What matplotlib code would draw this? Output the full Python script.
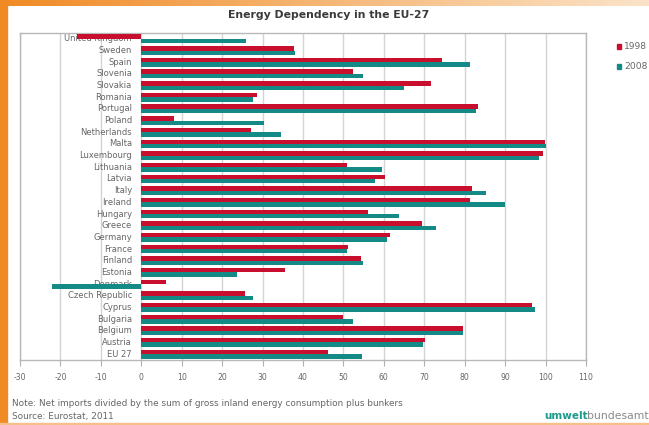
import numpy as np
import matplotlib
matplotlib.use('Agg')
import matplotlib.pyplot as plt
from matplotlib.patches import Patch, Rectangle

plt.rcParams['axes.unicode_minus'] = False
plt.rcParams['font.family'] = 'DejaVu Sans'

# data (energy dependency in %)
countries = ['United Kingdom', 'Sweden', 'Spain', 'Slovenia', 'Slovakia', 'Romania',
             'Portugal', 'Poland', 'Netherlands', 'Malta', 'Luxembourg', 'Lithuania',
             'Latvia', 'Italy', 'Ireland', 'Hungary', 'Greece', 'Germany', 'France',
             'Finland', 'Estonia', 'Denmark', 'Czech Republic', 'Cyprus', 'Bulgaria',
             'Belgium', 'Austria', 'EU 27']
dep_1998 = [-15.8, 37.8, 74.4, 52.3, 71.6, 28.5, 83.2, 8.2, 27.2, 99.8, 99.4, 51.0,
            60.3, 81.8, 81.2, 56.2, 69.5, 61.4, 51.2, 54.3, 35.6, 6.0, 25.6, 96.7,
            50.0, 79.5, 70.2, 46.1]
dep_2008 = [26.0, 38.0, 81.2, 54.9, 65.1, 27.6, 82.9, 30.4, 34.5, 100.0, 98.4, 59.6,
            57.9, 85.3, 89.9, 63.7, 72.9, 60.7, 50.9, 54.9, 23.7, -22.0, 27.6, 97.5,
            52.3, 79.5, 69.6, 54.7]
years = ['1998', '2008']
xticks = np.arange(-30, 111, 10)

red = '#c8102e'
teal = '#148a86'
grey_txt = '#666666'

fig = plt.figure(figsize=(6.49, 4.25), dpi=100)
W, H = 649.0, 425.0

# orange frame of the screenshot
grad = fig.add_axes([0, 1 - 6 / H, 1, 6 / H])
grad.imshow(np.linspace(0, 1, 256)[None, :], aspect='auto',
            cmap=matplotlib.colors.LinearSegmentedColormap.from_list('o', ['#f08a24', '#fbe3c8']))
grad.axis('off')
fig.patches.append(Rectangle((0, 0), 7 / W, 1, transform=fig.transFigure,
                             color='#f08a24', zorder=5))
fig.patches.append(Rectangle((0, 0), 1, 2 / H, transform=fig.transFigure,
                             color='#f6c08a', zorder=5))

ax = fig.add_axes([20 / W, 1 - 360 / H, 566 / W, 327 / H])
y = np.arange(len(countries))
h = 0.38
ax.barh(y - 0.19, dep_1998, height=h, color=red, zorder=3, label=years[0])
ax.barh(y + 0.19, dep_2008, height=h, color=teal, zorder=3, label=years[1])

for i, c in enumerate(countries):
    ax.text(-2.3, i, c, ha='right', va='center', fontsize=6.0, color=grey_txt, zorder=2)

ax.set_xlim(-30, 110)
ax.set_ylim(len(countries) - 0.5, -0.5)
ax.set_xticks(xticks)
ax.set_xticklabels([str(t) for t in xticks])
ax.set_yticks([])
ax.tick_params(axis='x', length=4, width=0.8, color='#b0b0b0', labelsize=5.6,
               labelcolor=grey_txt, pad=5)
ax.grid(axis='x', color='#d4d4d4', linewidth=1.0, zorder=0)
for s in ax.spines.values():
    s.set_color('#b8b8b8')
    s.set_linewidth(1.0)

fig.text(329 / W, 1 - 15 / H, 'Energy Dependency in the EU-27', ha='center', va='center',
         fontsize=7.8, fontweight='bold', color='#3a3a3a')

fig.legend(handles=[Patch(color=red), Patch(color=teal)], labels=years,
           loc='upper left', bbox_to_anchor=(611 / W, 1 - 37 / H), frameon=False,
           handlelength=0.5, handleheight=0.5, handletextpad=0.3,
           fontsize=6.6, labelspacing=1.2, labelcolor=grey_txt, borderaxespad=0.2)

fig.text(12 / W, 1 - 404 / H,
         'Note: Net imports divided by the sum of gross inland energy consumption plus bunkers',
         ha='left', va='center', fontsize=6.4, color=grey_txt)
fig.text(12 / W, 1 - 417 / H, 'Source: Eurostat, 2011', ha='left', va='center',
         fontsize=6.4, color=grey_txt)

fig.text(544 / W, 1 - 416 / H, 'umwelt', ha='left', va='center', fontsize=7.5,
         fontweight='bold', color='#1a9a8a')
fig.text(587 / W, 1 - 416 / H, 'bundesamt', ha='left', va='center', fontsize=7.8,
         color='#8a8a8a')

fig.savefig('out.png', dpi=100)
